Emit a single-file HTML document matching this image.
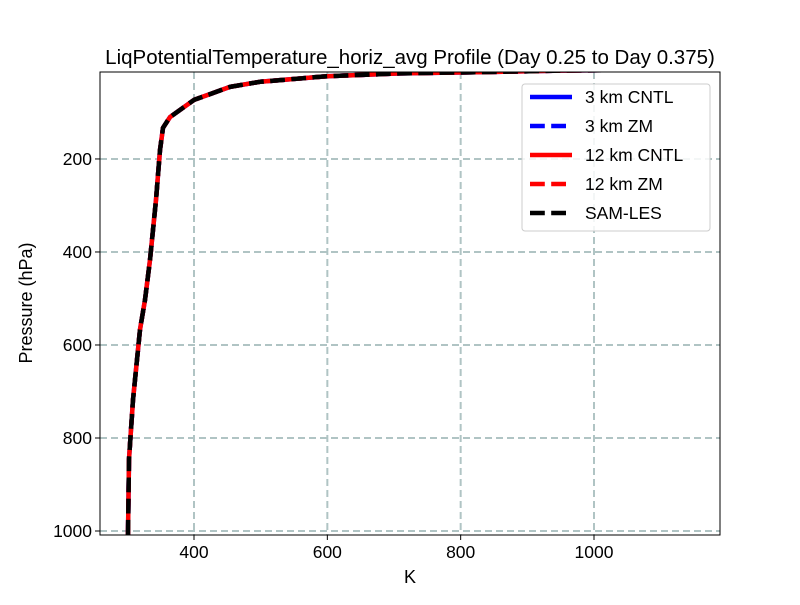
<!DOCTYPE html>
<html><head><meta charset="utf-8"><style>body{margin:0;background:#fff}svg{font-family:"Liberation Sans","DejaVu Sans",sans-serif}</style></head>
<body>
<svg id="chart" width="800" height="600" viewBox="0 0 800 600">
<rect width="800" height="600" fill="#fff"/>
<text x="410" y="64" text-anchor="middle" font-size="20.5">LiqPotentialTemperature_horiz_avg Profile (Day 0.25 to Day 0.375)</text>
<defs><clipPath id="plotclip"><rect x="100" y="72" width="620" height="463"/></clipPath></defs>
<g id="grid"></g>
<g id="series" clip-path="url(#plotclip)"></g>
<rect x="100" y="72" width="620" height="463" fill="none" stroke="#000" stroke-width="1"/>
<g id="ticks"></g>
<text x="410" y="583" text-anchor="middle" font-size="18">K</text>
<text x="32" y="303" text-anchor="middle" font-size="18" transform="rotate(-90 32 303)">Pressure (hPa)</text>
<g id="legend"></g>
</svg>
<script>
const xTicks = [400, 600, 800, 1000];
const yTicks = [200, 400, 600, 800, 1000];
const tempK = [301, 302.5, 308.5, 319, 326.5, 334, 343, 349, 353.5, 364, 400, 454, 499, 599.5, 709, 844, 950, 1100];
const pressureHPa = [1008, 846, 718, 567, 503, 417, 288, 181, 133, 110, 73, 45, 34, 22, 16, 13, 10, 8];
const seriesNames = ["3 km CNTL", "3 km ZM", "12 km CNTL", "12 km ZM", "SAM-LES"];
const seriesColors = ["#0000ff", "#0000ff", "#ff0000", "#ff0000", "#000000"];
const seriesDashed = [false, true, false, true, true];

const NS = "http://www.w3.org/2000/svg";
const X0 = 100, X1 = 720, Y0 = 72, Y1 = 535;
const xMin = 259, xMax = 1189, pTop = 13, pBot = 1008.6;
const sx = v => X0 + (v - xMin) / (xMax - xMin) * (X1 - X0);
const sy = p => Y0 + (p - pTop) / (pBot - pTop) * (Y1 - Y0);
function mk(tag, attrs, parent) { const e = document.createElementNS(NS, tag); for (const k in attrs) e.setAttribute(k, attrs[k]); parent.appendChild(e); return e; }
const grid = document.getElementById('grid'), ticks = document.getElementById('ticks');
xTicks.forEach(v => {
  const x = sx(v);
  const g = mk('line', {x1: x, x2: x, y1: Y0, y2: Y1, stroke: '#b0c4c4', 'stroke-width': 2, 'stroke-dasharray': '7,4'}, grid);
  
  
  mk('line', {x1: x, x2: x, y1: Y1, y2: Y1 + 5, stroke: '#000'}, ticks);
  const t = mk('text', {x: x, y: Y1 + 23, 'text-anchor': 'middle', 'font-size': 17.5}, ticks);
  t.textContent = v;
  
  
});
yTicks.forEach(v => {
  const y = sy(v);
  const g = mk('line', {x1: X0, x2: X1, y1: y, y2: y, stroke: '#b0c4c4', 'stroke-width': 2, 'stroke-dasharray': '7,4'}, grid);
  
  
  mk('line', {x1: X0 - 5, x2: X0, y1: y, y2: y, stroke: '#000'}, ticks);
  const t = mk('text', {x: X0 - 8, y: y + 6, 'text-anchor': 'end', 'font-size': 17.5}, ticks);
  t.textContent = v;
  
  
});
const series = document.getElementById('series');
const pts = tempK.map((v, i) => sx(v).toFixed(1) + ',' + sy(pressureHPa[i]).toFixed(1)).join(' ');
seriesNames.forEach((n, i) => {
  const a = {points: pts, fill: 'none', stroke: seriesColors[i], 'stroke-width': 4.5, 'stroke-linejoin': 'round'};
  if (seriesDashed[i]) a['stroke-dasharray'] = '14.8,6.4';
  const l = mk('polyline', a, series);
  
  
});
const legend = document.getElementById('legend');
const box = mk('rect', {x: 522, y: 84, width: 188, height: 147, rx: 3, fill: '#fff', 'fill-opacity': 0.85, stroke: '#ccc'}, legend);


seriesNames.forEach((n, i) => {
  const y = 97 + i * 29;
  const a = {x1: 530, x2: 572, y1: y, y2: y, stroke: seriesColors[i], 'stroke-width': 4.5};
  if (seriesDashed[i]) a['stroke-dasharray'] = '14.8,6.4';
  const l = mk('line', a, legend);
  
  
  const t = mk('text', {x: 585, y: y + 6, 'font-size': 17.5}, legend);
  t.textContent = n;
  
  
});
</script>
</body></html>
